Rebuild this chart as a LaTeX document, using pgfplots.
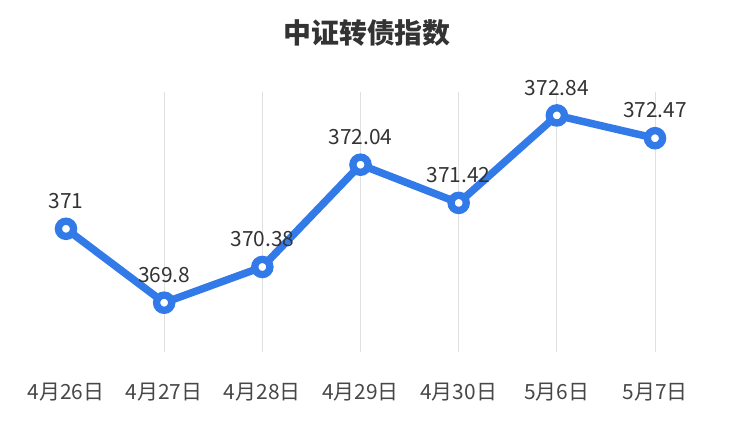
\documentclass[border=0pt]{standalone}
\usepackage{fontspec}
\setmainfont{Noto Sans CJK SC}
\usepackage{pgfplots}
\pgfplotsset{compat=1.18}
\definecolor{lineblue}{RGB}{50,122,232}
\definecolor{txt}{RGB}{51,51,51}
\definecolor{gridc}{RGB}{224,224,224}
\begin{document}
\begin{tikzpicture}[x=1bp,y=1bp]
\path[use as bounding box] (-66,-74) rectangle (668,352);
\begin{axis}[
  at={(0,0)}, anchor=south west,
  scale only axis, width=589bp, height=260bp,
  xmin=0, xmax=6, ymin=369, ymax=373.22,
  axis line style={draw=none},
  ytick=\empty,
  xtick={0,...,6},
  xticklabels={4月26日,4月27日,4月28日,4月29日,4月30日,5月6日,5月7日},
  xticklabel style={font=\fontsize{21}{24}\selectfont, text=txt!90, yshift=-28bp},
  major tick length=0pt,
  extra x ticks={1,2,3,4,5,6},
  extra x tick labels={},
  extra x tick style={grid=major, major grid style={gridc, line width=1bp}},
  clip=false,
  nodes near coords,
  point meta=explicit symbolic,
  every node near coord/.append style={font=\fontsize{21}{24}\selectfont, text=txt, yshift=13bp},
]
\addplot[lineblue, line width=7.5bp, mark=*, mark size=7.6bp,
  mark options={fill=white, draw=lineblue, line width=7.3bp}]
  table[meta=label] {
x y label
0 371 371
1 369.8 369.8
2 370.38 370.38
3 372.04 372.04
4 371.42 371.42
5 372.84 372.84
6 372.47 372.47
};
\end{axis}
\node[font=\fontsize{28}{32}\selectfont\bfseries, text=txt] at (301,319) {中证转债指数};
\end{tikzpicture}
\end{document}
